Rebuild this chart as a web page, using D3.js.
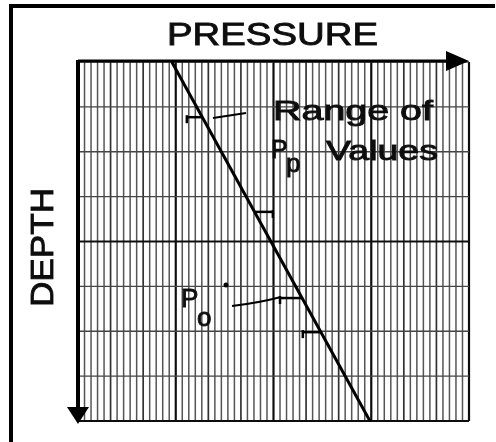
<!DOCTYPE html>
<html>
<head>
<meta charset="utf-8">
<script src="https://cdn.jsdelivr.net/npm/d3@7"></script>
<style>
  html, body { margin: 0; padding: 0; background: #fff; }
  svg { display: block; }
  text { font-family: "Liberation Sans", Arial, sans-serif; fill: #111; stroke: #111; stroke-width: 0.9; }
</style>
</head>
<body>
<svg id="chart" width="496" height="442"></svg>
<script>
// ---- data (in grid units: pressure = minor columns 0..60, depth = rows 0..8) ----
const pressureDomain = [0, 60];
const depthDomain = [0, 8];
const minorColumns = d3.range(0, 61);         // vertical grid lines
const rows = d3.range(0, 9);                   // horizontal grid lines
const lineDepth = [0, 8];                      // pressure-depth line
const linePressure = [14.4, 44.8];
const rangeTickDepth = [1.23, 3.34, 5.26, 6.02];  // "range of p_p values" marks
const rangeTickEnd = [16.7, 29.9, 31.0, 34.5];    // pressure where each mark ends
const titleX = "PRESSURE";
const titleY = "DEPTH";
const noteRange = ["Range of", "Values"];

const svg = d3.select("#chart");
const defs = svg.append("defs");
defs.append("filter").attr("id", "soft")
  .append("feGaussianBlur").attr("stdDeviation", 0.45);

const x = d3.scaleLinear().domain(pressureDomain).range([78, 469]);
const y = d3.scaleLinear().domain(depthDomain).range([62, 421]);

const root = svg.append("g").attr("filter", "url(#soft)");

// outer frame (top and left)
root.append("line").attr("x1", 11).attr("x2", 495).attr("y1", 6).attr("y2", 6)
  .attr("stroke", "#000").attr("stroke-width", 4);
root.append("line").attr("x1", 11).attr("x2", 11).attr("y1", 4).attr("y2", 442)
  .attr("stroke", "#000").attr("stroke-width", 4);

const grid = root.append("g");
// vertical grid lines
grid.selectAll("line.v").data(minorColumns).join("line")
  .attr("x1", d => x(d)).attr("x2", d => x(d))
  .attr("y1", y(0)).attr("y2", y(8))
  .attr("stroke", d => d % 15 === 0 ? "#111" : (d % 5 === 0 ? "#333" : "#555"))
  .attr("stroke-width", d => d % 15 === 0 ? 2.2 : (d % 5 === 0 ? 1.7 : 1.5));
// horizontal grid lines
grid.selectAll("line.h").data(rows).join("line")
  .attr("x1", x(0)).attr("x2", x(60))
  .attr("y1", d => y(d)).attr("y2", d => y(d))
  .attr("stroke", d => d === 4 || d === 8 ? "#111" : "#444")
  .attr("stroke-width", d => d === 4 || d === 8 ? 2 : 1.4);

// axes with arrows
root.append("line").attr("x1", x(0)).attr("x2", 450).attr("y1", y(0) - 1).attr("y2", y(0) - 1)
  .attr("stroke", "#000").attr("stroke-width", 3);
root.append("path").attr("d", `M446,51 L469,61 L446,71 Z`).attr("fill", "#000");
root.append("line").attr("x1", x(0)).attr("x2", x(0)).attr("y1", y(0) - 2).attr("y2", 410)
  .attr("stroke", "#000").attr("stroke-width", 4);
root.append("path").attr("d", `M67,407 L78,424 L89,407 Z`).attr("fill", "#000");

// pressure-depth line
const pts = lineDepth.map((d, i) => [x(linePressure[i]), y(d)]);
root.append("path").attr("d", d3.line()(pts))
  .attr("fill", "none").attr("stroke", "#000").attr("stroke-width", 3);

// range marks
const lineAt = dep => linePressure[0] + (dep - lineDepth[0]) / (lineDepth[1] - lineDepth[0]) * (linePressure[1] - linePressure[0]);
rangeTickDepth.forEach((dep, i) => {
  const yy = y(dep), x0 = x(lineAt(dep)), x1 = x(rangeTickEnd[i]);
  root.append("line").attr("x1", x0).attr("x2", x1).attr("y1", yy).attr("y2", yy)
    .attr("stroke", "#000").attr("stroke-width", 2.5);
  root.append("line").attr("x1", x1).attr("x2", x1).attr("y1", yy - 2).attr("y2", yy + 6)
    .attr("stroke", "#000").attr("stroke-width", 2.5);
});

// leader lines
root.append("line").attr("x1", 213).attr("y1", 118).attr("x2", 246).attr("y2", 113)
  .attr("stroke", "#000").attr("stroke-width", 2.2);
root.append("path").attr("d", "M232,306 Q258,303 281,297")
  .attr("fill", "none").attr("stroke", "#000").attr("stroke-width", 2.2);

// labels
root.append("text").attr("x", 167).attr("y", 45).attr("font-size", 32)
  .attr("textLength", 211).attr("lengthAdjust", "spacingAndGlyphs").text(titleX);
root.append("text").attr("transform", "translate(53,307) rotate(-90)").attr("font-size", 32)
  .attr("textLength", 119).attr("lengthAdjust", "spacingAndGlyphs").text(titleY);

root.append("text").attr("x", 273).attr("y", 120).attr("font-size", 28)
  .attr("textLength", 160).attr("lengthAdjust", "spacingAndGlyphs").text(noteRange[0]);
root.append("text").attr("x", 326).attr("y", 160).attr("font-size", 28)
  .attr("textLength", 112).attr("lengthAdjust", "spacingAndGlyphs").text(noteRange[1]);

// p_p
root.append("text").attr("x", 271).attr("y", 158).attr("font-size", 25).text("P");
root.append("text").attr("x", 286).attr("y", 172).attr("font-size", 26).text("p");
// p_o
root.append("text").attr("x", 181).attr("y", 307).attr("font-size", 26).text("P");
root.append("text").attr("x", 197).attr("y", 326).attr("font-size", 26).text("o");
root.append("circle").attr("cx", 226).attr("cy", 285).attr("r", 2.5).attr("fill", "#000");
</script>
</body>
</html>
